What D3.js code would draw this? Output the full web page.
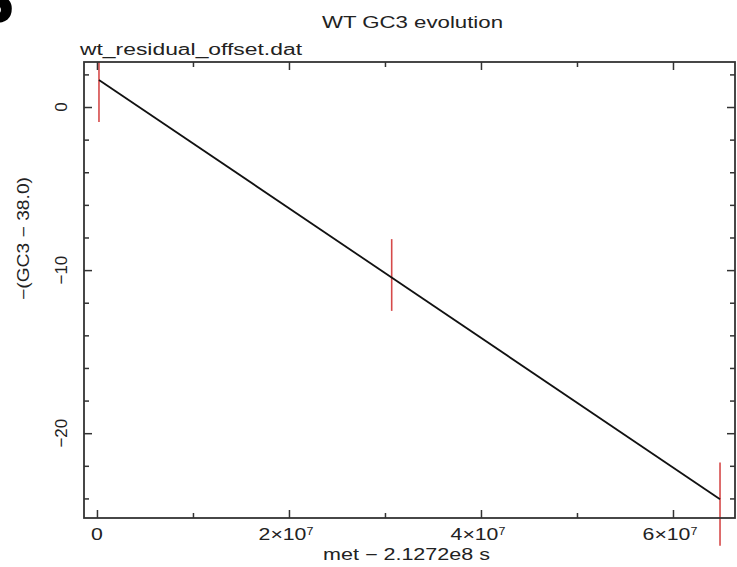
<!DOCTYPE html>
<html>
<head>
<meta charset="utf-8">
<script src="https://cdn.jsdelivr.net/npm/d3@7"></script>
<style>
  body { margin: 0; background: #fff; }
  text { font-family: "Liberation Sans", Arial, sans-serif; fill: #222; }
</style>
</head>
<body>
<svg id="chart" width="737" height="567"></svg>
<script>
// Data
var times = [2.1e5, 3.07e7, 6.49e7];        // met - 2.1272e8 s
var values = [1.66, -10.3, -24.05];          // -(GC3 - 38.0)
var errLow = [-0.92, -12.5, -26.9];
var errHigh = [4.2, -8.1, -21.8];
var fitX = [2.1e5, 6.49e7];
var fitY = [1.66, -24.05];
var xMajor = [0, 2e7, 4e7, 6e7];
var xMinor = [1e7, 3e7, 5e7];
var yMajor = [0, -10, -20];
var yMinor = [2, -2, -4, -6, -8, -12, -14, -16, -18, -22, -24];

var svg = d3.select("#chart"),
  width = +svg.attr("width"),
  height = +svg.attr("height");

// frame edges
var mLeft = 84, mRight = 735, mTop = 62, mBottom = 518;

var x = d3.scaleLinear().domain([-1.35e6, 6.646e7]).range([mLeft, mRight]);
var y = d3.scaleLinear().domain([2.76, -25.2]).range([mTop, mBottom]);

// bits of a big slide heading cut off at the top-left
svg.append("text")
  .attr("x", -27).attr("y", 22)
  .attr("font-size", 60)
  .attr("font-weight", "bold")
  .style("font-family", "DejaVu Sans, sans-serif")
  .style("fill", "#000")
  .text("S");

// clip at the top of the frame only (lowest bar hangs below the axis in the original)
svg.append("clipPath").attr("id", "clip")
  .append("rect").attr("x", mLeft).attr("y", mTop).attr("width", mRight - mLeft).attr("height", height - mTop);

// error bars
svg.append("g").attr("clip-path", "url(#clip)")
  .selectAll("line")
  .data(times)
  .enter().append("line")
  .attr("x1", function(d) { return x(d); })
  .attr("x2", function(d) { return x(d); })
  .attr("y1", function(d, i) { return y(errHigh[i]); })
  .attr("y2", function(d, i) { return y(errLow[i]); })
  .attr("stroke", "#d64a4a")
  .attr("stroke-width", 1.6);

// fit line
var fit = fitX.map(function(d, i) { return [d, fitY[i]]; });
svg.append("path")
  .datum(fit)
  .attr("d", d3.line().x(function(d) { return x(d[0]); }).y(function(d) { return y(d[1]); }))
  .attr("fill", "none")
  .attr("stroke", "#111")
  .attr("stroke-width", 1.8);

// frame
svg.append("rect")
  .attr("x", mLeft).attr("y", mTop)
  .attr("width", mRight - mLeft).attr("height", mBottom - mTop)
  .attr("fill", "none").attr("stroke", "#333").attr("stroke-width", 1.8);

// ticks, pointing inward on all four sides
var xAxisB = d3.axisBottom(x).tickValues(xMajor).tickSize(-8).tickFormat("");
var xAxisBm = d3.axisBottom(x).tickValues(xMinor).tickSize(-5).tickFormat("");
var xAxisT = d3.axisTop(x).tickValues(xMajor).tickSize(-8).tickFormat("");
var xAxisTm = d3.axisTop(x).tickValues(xMinor).tickSize(-5).tickFormat("");
var yAxisL = d3.axisLeft(y).tickValues(yMajor).tickSize(-8).tickFormat("");
var yAxisLm = d3.axisLeft(y).tickValues(yMinor).tickSize(-5).tickFormat("");
var yAxisR = d3.axisRight(y).tickValues(yMajor).tickSize(-8).tickFormat("");
var yAxisRm = d3.axisRight(y).tickValues(yMinor).tickSize(-5).tickFormat("");

function addAxis(ax, tx, ty) {
  var g = svg.append("g").attr("transform", "translate(" + tx + "," + ty + ")").call(ax);
  g.select(".domain").remove();
  g.selectAll(".tick line").attr("stroke", "#333").attr("stroke-width", 1.5);
  return g;
}
addAxis(xAxisB, 0, mBottom);
addAxis(xAxisBm, 0, mBottom);
addAxis(xAxisT, 0, mTop);
addAxis(xAxisTm, 0, mTop);
addAxis(yAxisL, mLeft, 0);
addAxis(yAxisLm, mLeft, 0);
addAxis(yAxisR, mRight, 0);
addAxis(yAxisRm, mRight, 0);

// x tick labels like "2×10^7"
var xl = svg.append("g")
  .selectAll("g")
  .data(xMajor)
  .enter().append("g")
  .attr("transform", function(d) { return "translate(" + (x(d) - (d === 0 ? 0 : 3)) + ",540) scale(1.25,1)"; })
  .append("text")
  .attr("text-anchor", "middle")
  .attr("font-size", 17);
xl.each(function(d) {
  var t = d3.select(this);
  if (d === 0) { t.text("0"); return; }
  var e = Math.floor(Math.log10(d));
  t.append("tspan").text(Math.round(d / Math.pow(10, e)) + "\u00d710");
  t.append("tspan").attr("dy", "-0.55em").attr("font-size", 10).text(e);
});

// y tick labels, rotated
svg.append("g")
  .selectAll("text")
  .data(yMajor)
  .enter().append("text")
  .attr("transform", function(d) { return "translate(67," + y(d) + ") rotate(-90)"; })
  .attr("text-anchor", "middle")
  .attr("font-size", 17)
  .text(function(d) { return d === 0 ? "0" : "\u2212" + Math.abs(d); });

// titles
svg.append("text")
  .attr("x", 322).attr("y", 28)
  .attr("font-size", 16)
  .attr("textLength", 181).attr("lengthAdjust", "spacingAndGlyphs")
  .text("WT GC3 evolution");

svg.append("text")
  .attr("x", 80).attr("y", 55)
  .attr("font-size", 16)
  .attr("textLength", 222).attr("lengthAdjust", "spacingAndGlyphs")
  .text("wt_residual_offset.dat");

svg.append("text")
  .attr("x", 323).attr("y", 560)
  .attr("font-size", 16)
  .attr("textLength", 167).attr("lengthAdjust", "spacingAndGlyphs")
  .text("met \u2212 2.1272e8 s");

svg.append("text")
  .attr("transform", "translate(29,300) rotate(-90)")
  .attr("font-size", 16)
  .attr("textLength", 123).attr("lengthAdjust", "spacingAndGlyphs")
  .text("\u2212(GC3 \u2212 38.0)");
</script>
</body>
</html>
